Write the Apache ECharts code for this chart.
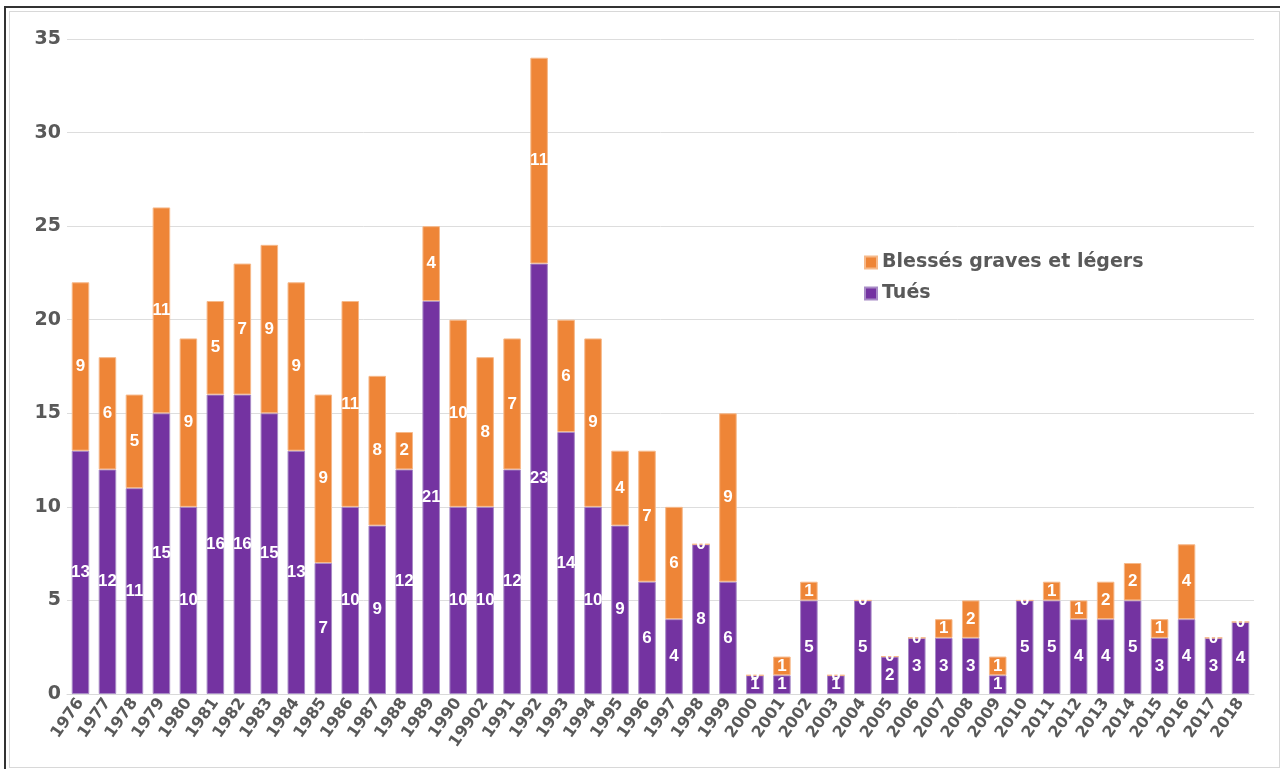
<!DOCTYPE html>
<html>
<head>
<meta charset="utf-8">
<script src="https://cdn.jsdelivr.net/npm/echarts@6/dist/echarts.min.js"></script>
<style>
	body{margin:0;background:#fff;}
	#outer{position:absolute;left:4px;top:6px;width:1276px;height:763px;box-sizing:border-box;border-left:2px solid #333;border-top:2px solid #333;}
	#inner{position:absolute;left:3px;top:3px;right:0;bottom:1px;border:1px solid #d8d8d8;}
	#main{position:absolute;left:0;top:0;width:1280px;height:769px;}
</style>
</head>
<body>
<div id="outer"><div id="inner"></div></div>
<div id="main"></div>
<script>
	// années (la colonne "19902" est telle quelle dans l'original)
	var years = ['1976','1977','1978','1979','1980','1981','1982','1983','1984','1985','1986','1987','1988','1989','1990','19902',
		'1991','1992','1993','1994','1995','1996','1997','1998','1999','2000','2001','2002','2003','2004','2005','2006','2007',
		'2008','2009','2010','2011','2012','2013','2014','2015','2016','2017','2018'];
	// Tués
	var tues = [13,12,11,15,10,16,16,15,13,7,10,9,12,21,10,10,
		12,23,14,10,9,6,4,8,6,1,1,5,1,5,2,3,3,
		3,1,5,5,4,4,5,3,4,3,3.85];
	// Blessés graves et légers
	var blesses = [9,6,5,11,9,5,7,9,9,9,11,8,2,4,10,8,
		7,11,6,9,4,7,6,0,9,0,1,1,0,0,0,0,1,
		2,1,0,1,1,2,2,1,4,0,0];
	var yTicks = [0,5,10,15,20,25,30,35];

	var labelStyle = {
		show:true,
		position:'inside',
		color:'#fff',
		fontFamily:'Liberation Sans',
		fontWeight:'bold',
		fontSize:17,
		formatter:function(p){ return Math.round(p.value); }
	};

	var option = {
		animation:false,
		textStyle:{fontFamily:'DejaVu Sans'},
		grid:{left:67,right:26,top:39,bottom:75,containLabel:false},
		legend:{
			data:['Blessés graves et légers','Tués'],
			orient:'vertical',
			left:859,
			top:248,
			itemWidth:12,
			itemHeight:12,
			itemGap:12,
			icon:'rect',
			textStyle:{fontFamily:'DejaVu Sans',fontSize:19,fontWeight:'bold',color:'#595959'}
		},
		xAxis:{
			type:'category',
			data:years,
			axisLine:{show:true,lineStyle:{color:'#d9d9d9'}},
			axisTick:{show:false},
			axisLabel:{rotate:55,margin:6,fontFamily:'DejaVu Sans',fontSize:16,fontWeight:'bold',color:'#595959',interval:0}
		},
		yAxis:{
			type:'value',
			min:yTicks[0],
			max:yTicks[yTicks.length-1],
			interval:5,
			axisLine:{show:false},
			axisTick:{show:false},
			splitLine:{lineStyle:{color:'#dddddd'}},
			axisLabel:{margin:6,fontFamily:'DejaVu Sans',fontSize:19,fontWeight:'bold',color:'#595959'}
		},
		series:[
			{
				name:'Tués',
				type:'bar',
				stack:'total',
				data:tues,
				barCategoryGap:'35%',
				itemStyle:{color:'#7433a1',borderColor:'#a88bc6',borderWidth:1},
				label:labelStyle
			},
			{
				name:'Blessés graves et légers',
				type:'bar',
				stack:'total',
				data:blesses,
				barCategoryGap:'35%',
				itemStyle:{color:'#ee8537',borderColor:'#f6b98a',borderWidth:1},
				label:labelStyle
			}
		]
	};
	echarts.init(document.getElementById('main')).setOption(option);
</script>
</body>
</html>
